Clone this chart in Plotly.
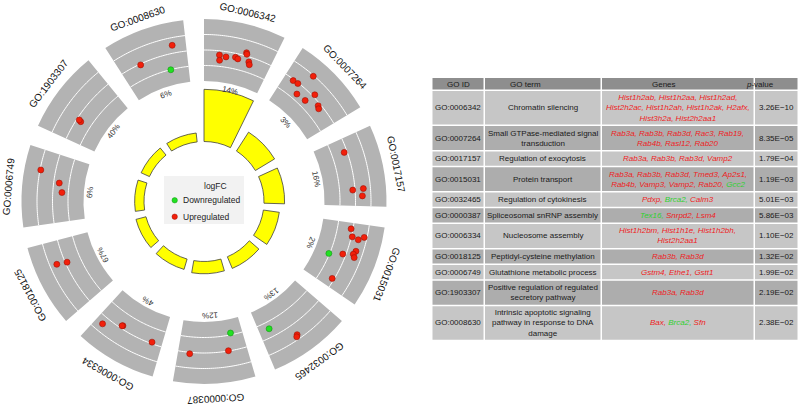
import numpy as np
import plotly.graph_objects as go

# ---------------- data ----------------
go_ids = ["GO:0006342", "GO:0007264", "GO:0017157", "GO:0015031", "GO:0032465",
          "GO:0000387", "GO:0006334", "GO:0018125", "GO:0006749", "GO:1903307",
          "GO:0008630"]
go_terms = ["Chromatin silencing",
            "Small GTPase-mediated signal<br>transduction",
            "Regulation of exocytosis",
            "Protein transport",
            "Regulation of cytokinesis",
            "Spliceosomal snRNP assembly",
            "Nucleosome assembly",
            "Peptidyl-cysteine methylation",
            "Glutathione metabolic process",
            "Positive regulation of regulated<br>secretory pathway",
            "Intrinsic apoptotic signaling<br>pathway in response to DNA<br>damage"]
pvalues = [3.26e-10, 8.35e-05, 1.79e-04, 1.19e-03, 5.01e-03, 5.86e-03,
           1.10e-02, 1.32e-02, 1.99e-02, 2.19e-02, 2.38e-02]
pvalue_labels = ["3.26E\u221210", "8.35E\u221205", "1.79E\u221204", "1.19E\u221203",
                 "5.01E\u221203", "5.86E\u221203", "1.10E\u221202", "1.32E\u221202",
                 "1.99E\u221202", "2.19E\u221202", "2.38E\u221202"]
percent_labels = ["14%", "3%", "16%", "2%", "13%", "12%", "4%", "67%", "6%", "40%", "6%"]

genes = [
    ["Hist1h2ab", "Hist1h2aa", "Hist1h2ad", "Hist2h2ac", "Hist1h2ah", "Hist1h2ak", "H2afx", "Hist3h2a", "Hist2h2aa1"],
    ["Rab3a", "Rab3b", "Rab3d", "Rac3", "Rab19", "Rab4b", "Rasl12", "Rab20"],
    ["Rab3a", "Rab3b", "Rab3d", "Vamp2"],
    ["Rab3a", "Rab3b", "Rab3d", "Tmed3", "Ap2s1", "Rab4b", "Vamp3", "Vamp2", "Rab20", "Gcc2"],
    ["Pdxp", "Brca2", "Calm3"],
    ["Tex16", "Snrpd2", "Lsm4"],
    ["Hist1h2bm", "Hist1h1e", "Hist1h2bh", "Hist2h2aa1"],
    ["Rab3b", "Rab3d"],
    ["Gstm4", "Ethe1", "Gstt1"],
    ["Rab3a", "Rab3d"],
    ["Bax", "Brca2", "Sfn"],
]
gene_regulation = [
    ["up"] * 9,
    ["up"] * 8,
    ["up"] * 4,
    ["up"] * 9 + ["down"],
    ["up", "down", "up"],
    ["down", "up", "up"],
    ["up"] * 4,
    ["up"] * 2,
    ["up"] * 3,
    ["up"] * 2,
    ["up", "down", "up"],
]
# estimated logFC of each gene (radial position in the outer ring)
gene_logfc = [
    [0.73, 0.39, 0.66, 0.75, 0.68, 1.21, 1.12, 0.68, 0.52],
    [0.92, 0.95, 0.39, 1.95, 0.45, 1.15, 0.84, 0.74],
    [0.81, 1.54, 0.85, 1.45],
    [0.88, 1.82, 1.06, 1.48, 1.54, 1.44, 1.57, 0.80, 0.87, -0.05],
    [1.71, 0.45, 1.81],
    [-0.12, 0.98, 1.09],
    [0.90, 0.80, 0.83, 1.48],
    [0.89, 1.55],
    [0.41, 0.64, 1.95],
    [0.70, 0.84],
    [0.94, -0.01, 1.51],
]
# position of each gene along its term's arc (0 = start, 1 = end)
gene_arc_pos = [
    [0.23, 0.24, 0.33, 0.47, 0.51, 0.61, 0.62, 0.68, 0.70],
    [0.14, 0.22, 0.31, 0.32, 0.47, 0.51, 0.66, 0.70],
    [0.20, 0.76, 0.77, 0.86],
    [0.09, 0.17, 0.20, 0.22, 0.38, 0.43, 0.47, 0.48, 0.87, 0.55],
    [0.54, 0.84, 0.56],
    [0.19, 0.27, 0.83],
    [0.15, 0.64, 0.65, 0.89],
    [0.65, 0.68],
    [0.45, 0.59, 0.73],
    [0.32, 0.33],
    [0.30, 0.71, 0.81],
]
# where the gene list wraps in the table (index of first gene on each new line)
gene_line_breaks = [[3, 7], [5], [], [5], [], [], [3], [], [], [], []]
logfc_grid = [0, 1, 2]

# ---------------- styling / geometry ----------------
W, H = 799, 407
FONT = "Liberation Sans, Arial, Helvetica, sans-serif"
CX, CY = 204, 201.5
R_MAX = 190
N = len(go_ids)
STEP = 360.0 / N
ARC = STEP * 0.8
R_BAR0 = 60.0
BAR_SCALE = 5.5
R_GRAY0, R_GRAY1 = 120.5, 182.5
LFC_MIN, LFC_MAX = -1.0, 3.0
R_LABEL, LABEL_DY = 196, 2
R_PCT = 114
RED, GREEN = "#F21F0A", "#22E022"
TXT_RED, TXT_GREEN = "#EE1D23", "#2FD02F"


def lfc_to_r(v):
    return R_GRAY0 + (np.asarray(v, float) - LFC_MIN) / (LFC_MAX - LFC_MIN) * (R_GRAY1 - R_GRAY0)


def px(x):
    return x / W


def py(y):
    return 1 - y / H


starts = np.arange(N) * STEP
centers = starts + ARC / 2

fig = go.Figure()

# gray outer segments
fig.add_trace(go.Barpolar(theta=centers, r=[R_GRAY1 - R_GRAY0] * N, base=R_GRAY0, width=ARC,
                          marker=dict(color="#B3B3B3", line=dict(width=0)),
                          hoverinfo="skip", showlegend=False))
# white grid arcs
th, rr = [], []
for s in starts:
    for lv in logfc_grid:
        t = np.linspace(s, s + ARC, 40)
        th += list(t) + [None]
        rr += [float(lfc_to_r(lv))] * 40 + [None]
fig.add_trace(go.Scatterpolar(theta=th, r=rr, mode="lines", line=dict(color="white", width=1),
                              hoverinfo="skip", showlegend=False))
# inner yellow bars (-log10 p)
fig.add_trace(go.Barpolar(theta=centers, r=BAR_SCALE * (-np.log10(pvalues)), base=R_BAR0, width=ARC,
                          marker=dict(color="#FFFF00", line=dict(color="#404040", width=0.8)),
                          hoverinfo="skip", showlegend=False))
# gene points
for reg, col, edge in [("down", GREEN, "#129612"), ("up", RED, "#9E1206")]:
    tt, rv = [], []
    for i in range(N):
        for pos, lfc, g in zip(gene_arc_pos[i], gene_logfc[i], gene_regulation[i]):
            if g == reg:
                tt.append(starts[i] + pos * ARC)
                rv.append(float(lfc_to_r(lfc)))
    fig.add_trace(go.Scatterpolar(theta=tt, r=rv, mode="markers",
                                  marker=dict(size=6, color=col, line=dict(color=edge, width=0.6)),
                                  hoverinfo="skip", showlegend=False))

annotations = []
shapes = []
for i in range(N):
    a = centers[i]
    ang = a if a <= 180 else a - 360
    for rad, dy, txt, size, colr in [(R_LABEL, LABEL_DY, go_ids[i], 10, "#111111"),
                                     (R_PCT, 0, percent_labels[i], 8, "#333333")]:
        x = CX + rad * np.sin(np.radians(a))
        y = CY + dy - rad * np.cos(np.radians(a))
        annotations.append(dict(x=px(x), y=py(y), xref="paper", yref="paper", text=txt,
                                showarrow=False, textangle=ang, xanchor="center", yanchor="middle",
                                font=dict(family=FONT, size=size, color=colr)))

# legend box
shapes.append(dict(type="rect", xref="paper", yref="paper", x0=px(164), x1=px(244), y0=py(176), y1=py(224),
                   fillcolor="#F2F2F2", line=dict(width=0), layer="above"))
annotations.append(dict(x=px(202), y=py(185.5), xref="paper", yref="paper", text="logFC", showarrow=False,
                        font=dict(family=FONT, size=8.5, color="#222")))
for yy, col, edge, lab in [(200.3, GREEN, "#129612", "Downregulated"), (216.7, RED, "#9E1206", "Upregulated")]:
    shapes.append(dict(type="circle", xref="paper", yref="paper", x0=px(172), x1=px(177.4),
                       y0=py(yy - 2.7), y1=py(yy + 2.7), fillcolor=col, line=dict(color=edge, width=0.5),
                       layer="above"))
    annotations.append(dict(x=px(181), y=py(yy), xref="paper", yref="paper", text=lab, showarrow=False,
                            xanchor="left", yanchor="middle", font=dict(family=FONT, size=8.5, color="#222")))

# ---------------- table ----------------
col_w = [51, 115.5, 151.5, 42.5]
GAP = 1.5
TX0 = 432.5
col_x = []
x = TX0
for w in col_w:
    col_x.append((x, x + w))
    x += w + GAP
HEAD_Y0, HEAD_Y1 = 78, 89.5
headers = ["GO ID", "GO term", "Genes", "<i>p</i>-value"]
for (x0, x1), h in zip(col_x, headers):
    shapes.append(dict(type="rect", xref="paper", yref="paper", x0=px(x0), x1=px(x1), y0=py(HEAD_Y0),
                       y1=py(HEAD_Y1), fillcolor="#8E8E8E", line=dict(width=0), layer="above"))
    annotations.append(dict(x=px((x0 + x1) / 2), y=py((HEAD_Y0 + HEAD_Y1) / 2 + 0.8), xref="paper",
                            yref="paper", text=h, showarrow=False, yanchor="middle",
                            font=dict(family=FONT, size=8, color="#1a1a1a")))


def gene_html(i):
    lines, cur = [], []
    breaks = gene_line_breaks[i]
    for j, (g, r) in enumerate(zip(genes[i], gene_regulation[i])):
        if j in breaks:
            lines.append(" ".join(cur))
            cur = []
        colr = TXT_RED if r == "up" else TXT_GREEN
        sep = "," if j < len(genes[i]) - 1 else ""
        cur.append('<span style="color:%s">%s%s</span>' % (colr, g, sep))
    lines.append(" ".join(cur))
    return "<i>" + "<br>".join(lines) + "</i>"


y = HEAD_Y1 + GAP
for i in range(N):
    nlines = max(go_terms[i].count("<br>"), len(gene_line_breaks[i])) + 1
    hgt = 4.5 + 9.7 * nlines
    fill = "#C6C6C6" if i % 2 == 0 else "#ADADAD"
    texts = [go_ids[i], go_terms[i], gene_html(i), pvalue_labels[i]]
    for (x0, x1), t in zip(col_x, texts):
        shapes.append(dict(type="rect", xref="paper", yref="paper", x0=px(x0), x1=px(x1), y0=py(y),
                           y1=py(y + hgt), fillcolor=fill, line=dict(width=0), layer="above"))
        annotations.append(dict(x=px((x0 + x1) / 2), y=py(y + hgt / 2), xref="paper", yref="paper",
                                text=t, showarrow=False, xanchor="center", yanchor="middle",
                                font=dict(family=FONT, size=8, color="#1a1a1a")))
    y += hgt + GAP

fig.update_layout(
    width=W, height=H, margin=dict(l=0, r=0, t=0, b=0),
    paper_bgcolor="white", plot_bgcolor="white",
    polar=dict(domain=dict(x=[px(CX - R_MAX), px(CX + R_MAX)], y=[py(CY + R_MAX), py(CY - R_MAX)]),
               bgcolor="rgba(0,0,0,0)", barmode="overlay",
               angularaxis=dict(rotation=90, direction="clockwise", visible=False),
               radialaxis=dict(range=[0, R_MAX], visible=False)),
    shapes=shapes, annotations=annotations, showlegend=False,
)
fig.write_html("out.html", config={"displayModeBar": False, "staticPlot": True},
               post_script="document.body.style.margin='0';document.body.style.overflow='hidden';")
